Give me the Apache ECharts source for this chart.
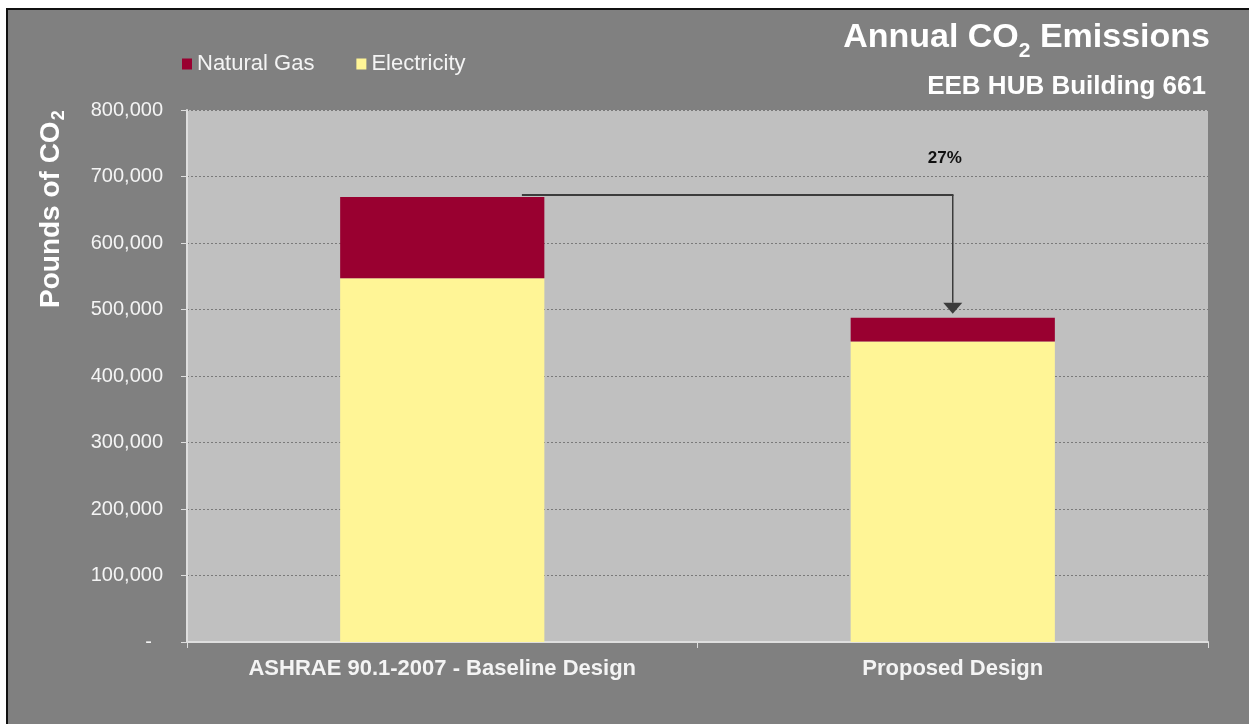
<!DOCTYPE html>
<html>
<head>
<meta charset="utf-8">
<script src="https://cdn.jsdelivr.net/npm/echarts@6/dist/echarts.min.js"></script>
<style>
  html, body { margin: 0; padding: 0; background: #ffffff; width: 1249px; height: 724px; overflow: hidden; }
  #chart {
    position: absolute; left: 6px; top: 8px;
    width: 1243px; height: 716px; box-sizing: border-box;
    border-left: 2px solid #111; border-top: 2px solid #111;
    background: #808080;
  }
</style>
</head>
<body>
<div id="chart"></div>
<script>
// Annual CO2 emissions by design case (pounds of CO2)
const categories = ['ASHRAE 90.1-2007 - Baseline Design', 'Proposed Design'];
const electricity = [547000, 452000];
const naturalGas = [122000, 35500];
const seriesNames = ['Natural Gas', 'Electricity'];
const yTicks = [0, 100000, 200000, 300000, 400000, 500000, 600000, 700000, 800000];

const totals = categories.map((_, i) => electricity[i] + naturalGas[i]);
const reductionPct = Math.round((1 - totals[1] / totals[0]) * 100) + '%';

const FONT = '"Liberation Sans", Arial, sans-serif';
const TXT = '#f4f4f4';

// text width helper for placing subscripts right after their text
const measureCtx = document.createElement('canvas').getContext('2d');
function textWidth(str, size, weight) {
  measureCtx.font = (weight || 'normal') + ' ' + size + 'px ' + FONT;
  return measureCtx.measureText(str).width;
}

const chart = echarts.init(document.getElementById('chart'));

// Title: "Annual CO" + subscript 2 + " Emissions", right aligned
const titleSize = 34, titleSub = 21, titleRight = 1202, titleY = 28;
const wEm = textWidth(' Emissions', titleSize, 'bold');
const wSub = textWidth('2', titleSub, 'bold');

// Axis name: "Pounds of CO" + subscript 2, rotated
const nameSize = 28, nameSub = 18;
const wName = textWidth('Pounds of CO', nameSize, 'bold');

chart.setOption({
  backgroundColor: 'transparent',
  animation: false,
  textStyle: { fontFamily: FONT },
  legend: {
    data: seriesNames,
    left: 169, top: 38,
    icon: 'rect', itemWidth: 10, itemHeight: 11, itemGap: 42,
    textStyle: { color: TXT, fontSize: 22, lineHeight: 22, fontFamily: FONT }
  },
  grid: {
    left: 179, top: 100, width: 1021, height: 532,
    show: true, backgroundColor: '#c0c0c0', borderWidth: 0
  },
  xAxis: {
    type: 'category',
    data: categories,
    axisLine: { lineStyle: { color: '#dedede', width: 2 } },
    axisTick: { show: true, length: 6, lineStyle: { color: '#dedede', width: 1 } },
    axisLabel: { color: TXT, fontSize: 22, fontWeight: 'bold', margin: 16, fontFamily: FONT },
    splitLine: { show: false }
  },
  yAxis: {
    type: 'value',
    min: yTicks[0], max: yTicks[yTicks.length - 1], interval: yTicks[1] - yTicks[0],
    axisLine: { show: true, lineStyle: { color: '#dedede', width: 2 } },
    axisTick: { show: true, length: 6, lineStyle: { color: '#dedede', width: 1 } },
    axisLabel: {
      color: TXT, fontSize: 20, margin: 24, fontFamily: FONT,
      formatter: v => v === 0 ? '-  ' : v.toLocaleString('en-US')
    },
    splitLine: { show: true, lineStyle: { color: '#7a7a7a', width: 1, type: [2, 2] } }
  },
  series: [
    {
      name: 'Electricity', type: 'bar', stack: 'co2', barWidth: '40%',
      itemStyle: { color: '#fff596' },
      data: electricity
    },
    {
      name: 'Natural Gas', type: 'bar', stack: 'co2', barWidth: '40%',
      itemStyle: { color: '#990030' },
      data: naturalGas
    },
    {
      // connector from the baseline total down to the proposed total, with reduction label
      type: 'custom', silent: true, z: 5,
      data: [[0, totals[0], 1, totals[1]]],
      encode: { x: [0, 2], y: [1, 3] },
      renderItem: function (params, api) {
        const p0 = api.coord([api.value(0), api.value(1)]);
        const p1 = api.coord([api.value(2), api.value(3)]);
        const band = api.size([1, 0])[0];
        const startX = p0[0] + band * 0.156;
        const lineY = p0[1] - 2;
        const endX = p1[0];
        const tipY = p1[1] - 4;
        const headH = 11, headW = 19;
        return {
          type: 'group',
          children: [
            { type: 'line', shape: { x1: startX, y1: lineY, x2: endX + 0.75, y2: lineY },
              style: { stroke: '#3c3c3c', lineWidth: 2 } },
            { type: 'line', shape: { x1: endX, y1: lineY, x2: endX, y2: tipY - headH },
              style: { stroke: '#3c3c3c', lineWidth: 1.5 } },
            { type: 'polygon', shape: { points: [[endX - headW / 2, tipY - headH], [endX + headW / 2, tipY - headH], [endX, tipY]] },
              style: { fill: '#3c3c3c' } },
            { type: 'text', x: endX - 8, y: lineY - 37,
              style: { text: reductionPct, fill: '#111', font: 'bold 17px ' + FONT, align: 'center', verticalAlign: 'middle' } }
          ]
        };
      }
    }
  ],
  graphic: [
    { type: 'text', x: titleRight, y: titleY,
      style: { text: ' Emissions', fill: '#fff', font: 'bold ' + titleSize + 'px ' + FONT, align: 'right', verticalAlign: 'middle' } },
    { type: 'text', x: titleRight - wEm, y: titleY + 13,
      style: { text: '2', fill: '#fff', font: 'bold ' + titleSub + 'px ' + FONT, align: 'right', verticalAlign: 'middle' } },
    { type: 'text', x: titleRight - wEm - wSub, y: titleY,
      style: { text: 'Annual CO', fill: '#fff', font: 'bold ' + titleSize + 'px ' + FONT, align: 'right', verticalAlign: 'middle' } },
    { type: 'text', x: 1198, y: 77,
      style: { text: 'EEB HUB Building 661', fill: '#fff', font: 'bold 26px ' + FONT, align: 'right', verticalAlign: 'middle' } },
    {
      type: 'group', x: 43, y: 298, rotation: Math.PI / 2,
      children: [
        { type: 'text', x: 0, y: 0,
          style: { text: 'Pounds of CO', fill: '#fff', font: 'bold ' + nameSize + 'px ' + FONT, align: 'left', verticalAlign: 'middle' } },
        { type: 'text', x: wName + 1, y: 8,
          style: { text: '2', fill: '#fff', font: 'bold ' + nameSub + 'px ' + FONT, align: 'left', verticalAlign: 'middle' } }
      ]
    }
  ]
});
</script>
</body>
</html>
